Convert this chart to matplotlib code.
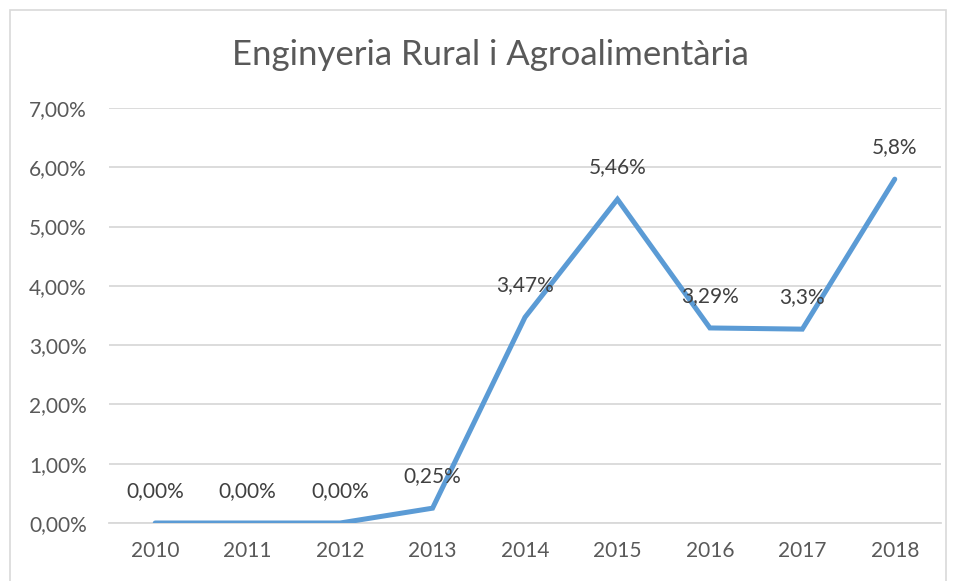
import matplotlib.pyplot as plt
from matplotlib.patches import Rectangle
from matplotlib.ticker import FuncFormatter

# --- Daten ---
anys = ['2010', '2011', '2012', '2013', '2014', '2015', '2016', '2017', '2018']
valors = [0.00, 0.00, 0.00, 0.25, 3.47, 5.46, 3.29, 3.27, 5.80]
etiquetes = ['0,00%', '0,00%', '0,00%', '0,25%', '3,47%', '5,46%', '3,29%', '3,3%', '5,8%']
titol = 'Enginyeria Rural i Agroalimentària'

plt.rcParams['font.family'] = ['Lato', 'DejaVu Sans']
gris_text = '#595959'

fig = plt.figure(figsize=(9.61, 5.81), dpi=100)
ax = fig.add_axes([109 / 961, 58 / 581, 832 / 961, 415 / 581])

# marc exterior del grafic
fig.patches.append(Rectangle((10 / 961, -0.01), 936 / 961, 571 / 581 + 0.01,
                             transform=fig.transFigure, fill=False,
                             edgecolor='#D9D9D9', linewidth=1.2))

x = list(range(len(anys)))
ax.plot(x, valors, color='#5B9BD5', linewidth=3.6, solid_capstyle='round',
        solid_joinstyle='miter', zorder=3)

for xi, v, t in zip(x, valors, etiquetes):
    ax.annotate(t, (xi, v), xytext=(0, 23), textcoords='offset points',
                ha='center', va='center', fontsize=15, color='#404040', zorder=4)

ax.set_xlim(-0.5, len(anys) - 0.5)
ax.set_ylim(0, 7)
ax.set_yticks(range(0, 8))
ax.yaxis.set_major_formatter(FuncFormatter(lambda v, p: f'{v:.2f}%'.replace('.', ',')))
ax.set_xticks(x)
ax.set_xticklabels(anys)

ax.grid(axis='y', color='#D9D9D9', linewidth=1.3)
ax.set_axisbelow(True)
for s in ['top', 'right', 'left']:
    ax.spines[s].set_visible(False)
ax.spines['bottom'].set_color('#D9D9D9')
ax.spines['bottom'].set_linewidth(1.3)
ax.tick_params(axis='both', length=0, labelsize=15, colors=gris_text)
ax.tick_params(axis='x', pad=13)
ax.tick_params(axis='y', pad=16)

fig.text(490 / 961, 1 - 55 / 581, titol, ha='center', va='center',
         fontsize=25, color=gris_text)

fig.savefig('out.png', dpi=100)
